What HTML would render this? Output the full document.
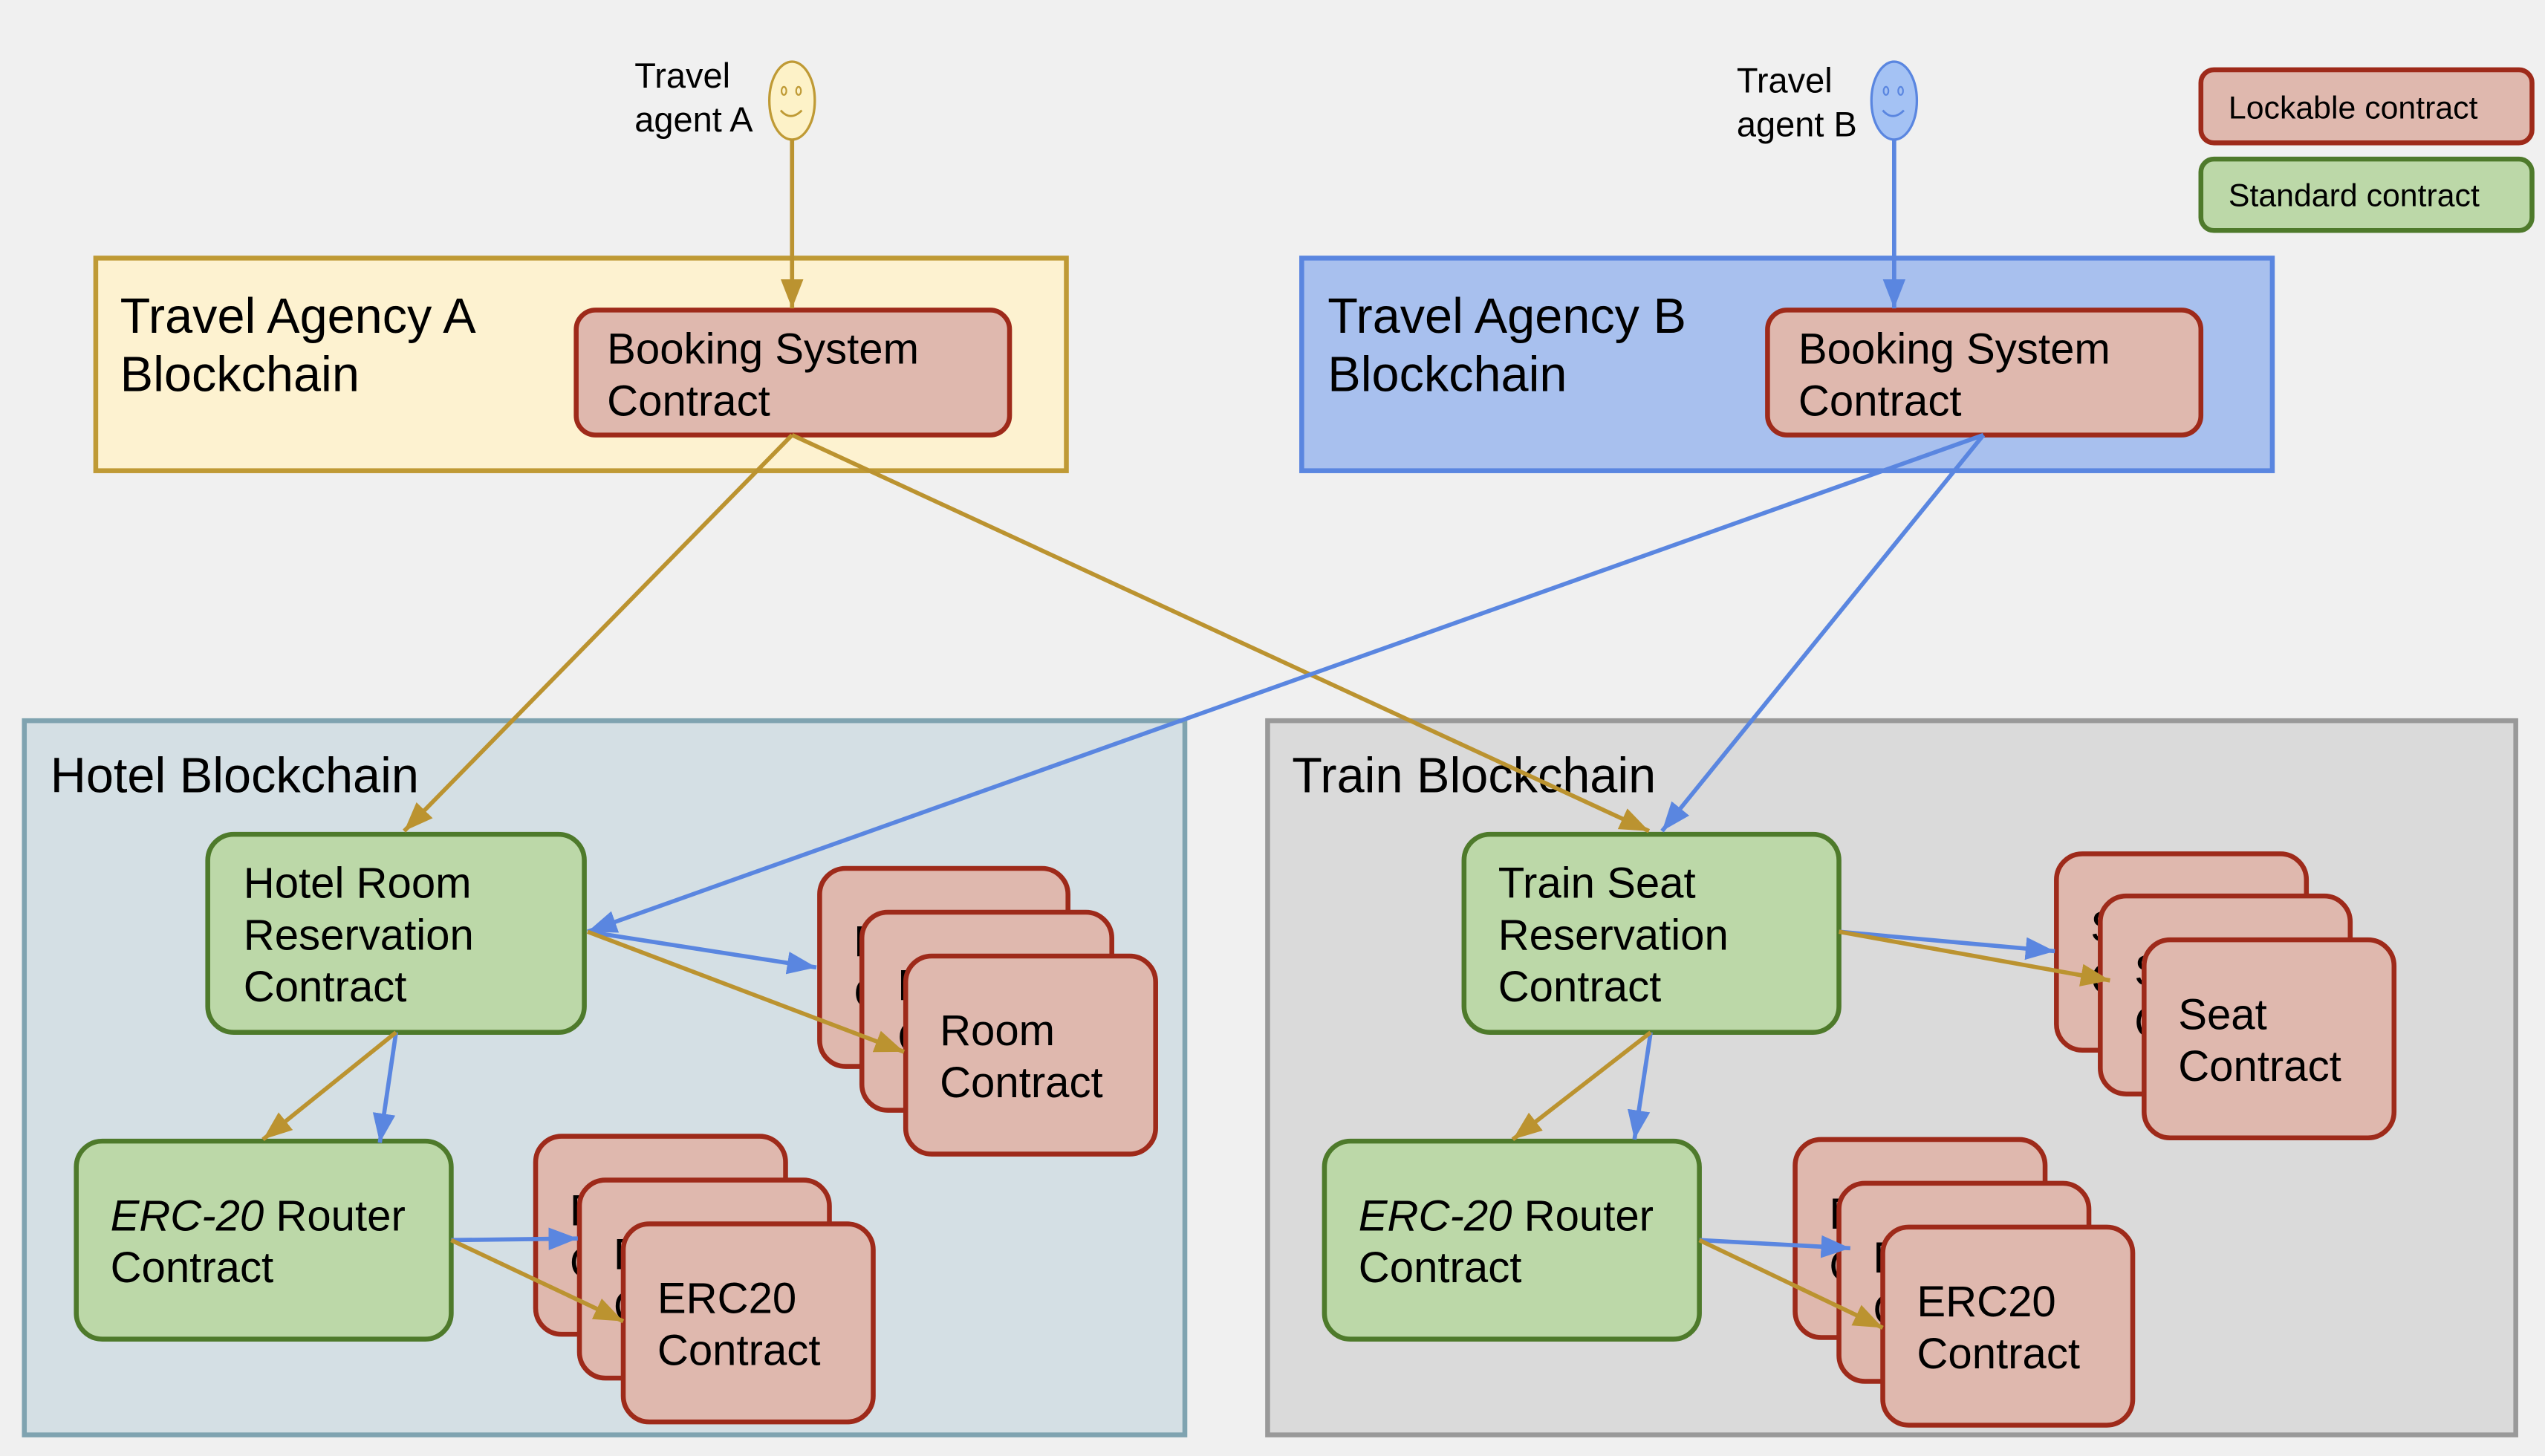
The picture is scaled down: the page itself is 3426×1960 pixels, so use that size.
<!DOCTYPE html>
<html><head><meta charset="utf-8">
<style>
html,body{margin:0;padding:0;background:#f0f0f0;}
svg{display:block;}
text{font-family:"Liberation Sans",Arial,sans-serif;fill:#000;}
.t{font-size:30.5px}
.b{font-size:26.6px}
</style></head>
<body>
<svg width="3426" height="1960" viewBox="0 0 1568 897" preserveAspectRatio="none" xmlns="http://www.w3.org/2000/svg">
<defs>
<marker id="ag" markerUnits="userSpaceOnUse" markerWidth="20" markerHeight="16" refX="18" refY="8" orient="auto"><path d="M0,1 L18,8 L0,15 Z" fill="#bb9330"/></marker>
<marker id="ab" markerUnits="userSpaceOnUse" markerWidth="20" markerHeight="16" refX="18" refY="8" orient="auto"><path d="M0,1 L18,8 L0,15 Z" fill="#5a86e0"/></marker>
</defs>
<rect width="1568" height="897" fill="#f0f0f0"/>

<rect x="59" y="159" width="598" height="131" fill="#fdf2d0" stroke="#bf9a35" stroke-width="3"/>
<text x="74" y="205" class="t">Travel Agency A</text>
<text x="74" y="241" class="t">Blockchain</text>
<rect x="802" y="159" width="598" height="131" fill="#a8c0ee" stroke="#5a86e0" stroke-width="3"/>
<text x="818" y="205" class="t">Travel Agency B</text>
<text x="818" y="241" class="t">Blockchain</text>

<rect x="15" y="444" width="715" height="440" fill="#d4dfe4" stroke="#7fa3b0" stroke-width="3"/>
<text x="31" y="488" class="t">Hotel Blockchain</text>
<rect x="781" y="444" width="769" height="440" fill="#dadada" stroke="#999" stroke-width="3"/>
<text x="796" y="488" class="t">Train Blockchain</text>

<rect x="1356" y="43" width="204" height="45" rx="8" fill="#dfb8ae" stroke="#9e2a1a" stroke-width="3"/>
<text x="1373" y="73" font-size="19.6">Lockable contract</text>
<rect x="1356" y="98" width="204" height="44" rx="8" fill="#bcd8a8" stroke="#4e7a2b" stroke-width="3"/>
<text x="1373" y="127" font-size="19.6">Standard contract</text>

<text x="391" y="54" font-size="21.5">Travel</text>
<text x="391" y="81" font-size="21.5">agent A</text>
<ellipse cx="488" cy="62" rx="14" ry="24" fill="#fdf2c8" stroke="#bf9a35" stroke-width="1.5"/>
<ellipse cx="483" cy="56" rx="1.5" ry="2.5" fill="none" stroke="#bf9a35"/>
<ellipse cx="492" cy="56" rx="1.5" ry="2.5" fill="none" stroke="#bf9a35"/>
<path d="M481,68 Q487,75 494,68" fill="none" stroke="#bf9a35" stroke-width="1.3"/>
<text x="1070" y="57" font-size="21.5">Travel</text>
<text x="1070" y="84" font-size="21.5">agent B</text>
<ellipse cx="1167" cy="62" rx="14" ry="24" fill="#a4c2f4" stroke="#5a86e0" stroke-width="1.5"/>
<ellipse cx="1162" cy="56" rx="1.5" ry="2.5" fill="none" stroke="#5a86e0"/>
<ellipse cx="1171" cy="56" rx="1.5" ry="2.5" fill="none" stroke="#5a86e0"/>
<path d="M1160,68 Q1166,75 1173,68" fill="none" stroke="#5a86e0" stroke-width="1.3"/>

<rect x="355" y="191" width="267" height="77" rx="12" fill="#dfb8ae" stroke="#9e2a1a" stroke-width="3"/>
<text x="374" y="224" class="b">Booking System</text>
<text x="374" y="256" class="b">Contract</text>
<rect x="1089" y="191" width="267" height="77" rx="12" fill="#dfb8ae" stroke="#9e2a1a" stroke-width="3"/>
<text x="1108" y="224" class="b">Booking System</text>
<text x="1108" y="256" class="b">Contract</text>

<rect x="128" y="514" width="232" height="122" rx="16" fill="#bcd8a8" stroke="#4e7a2b" stroke-width="3"/>
<text x="150" y="553" class="b">Hotel Room</text>
<text x="150" y="585" class="b">Reservation</text>
<text x="150" y="617" class="b">Contract</text>

<rect x="505" y="535" width="153" height="122" rx="16" fill="#dfb8ae" stroke="#9e2a1a" stroke-width="3"/>
<text x="526" y="589" class="b">Room</text><text x="526" y="621" class="b">Contract</text>
<rect x="531" y="562" width="154" height="122" rx="16" fill="#dfb8ae" stroke="#9e2a1a" stroke-width="3"/>
<text x="553" y="616" class="b">Room</text><text x="553" y="648" class="b">Contract</text>
<rect x="558" y="589" width="154" height="122" rx="16" fill="#dfb8ae" stroke="#9e2a1a" stroke-width="3"/>
<text x="579" y="644" class="b">Room</text><text x="579" y="676" class="b">Contract</text>

<rect x="47" y="703" width="231" height="122" rx="16" fill="#bcd8a8" stroke="#4e7a2b" stroke-width="3"/>
<text x="68" y="758" class="b"><tspan font-style="italic">ERC-20</tspan> Router</text>
<text x="68" y="790" class="b">Contract</text>

<rect x="330" y="700" width="154" height="122" rx="16" fill="#dfb8ae" stroke="#9e2a1a" stroke-width="3"/>
<text x="351" y="755" class="b">ERC20</text><text x="351" y="787" class="b">Contract</text>
<rect x="357" y="727" width="154" height="122" rx="16" fill="#dfb8ae" stroke="#9e2a1a" stroke-width="3"/>
<text x="378" y="782" class="b">ERC20</text><text x="378" y="814" class="b">Contract</text>
<rect x="384" y="754" width="154" height="122" rx="16" fill="#dfb8ae" stroke="#9e2a1a" stroke-width="3"/>
<text x="405" y="809" class="b">ERC20</text><text x="405" y="841" class="b">Contract</text>

<rect x="902" y="514" width="231" height="122" rx="16" fill="#bcd8a8" stroke="#4e7a2b" stroke-width="3"/>
<text x="923" y="553" class="b">Train Seat</text>
<text x="923" y="585" class="b">Reservation</text>
<text x="923" y="617" class="b">Contract</text>

<rect x="1267" y="526" width="154" height="121" rx="16" fill="#dfb8ae" stroke="#9e2a1a" stroke-width="3"/>
<text x="1288" y="580" class="b">Seat</text><text x="1288" y="612" class="b">Contract</text>
<rect x="1294" y="552" width="154" height="122" rx="16" fill="#dfb8ae" stroke="#9e2a1a" stroke-width="3"/>
<text x="1315" y="607" class="b">Seat</text><text x="1315" y="639" class="b">Contract</text>
<rect x="1321" y="579" width="154" height="122" rx="16" fill="#dfb8ae" stroke="#9e2a1a" stroke-width="3"/>
<text x="1342" y="634" class="b">Seat</text><text x="1342" y="666" class="b">Contract</text>

<rect x="816" y="703" width="231" height="122" rx="16" fill="#bcd8a8" stroke="#4e7a2b" stroke-width="3"/>
<text x="837" y="758" class="b"><tspan font-style="italic">ERC-20</tspan> Router</text>
<text x="837" y="790" class="b">Contract</text>

<rect x="1106" y="702" width="154" height="122" rx="16" fill="#dfb8ae" stroke="#9e2a1a" stroke-width="3"/>
<text x="1127" y="757" class="b">ERC20</text><text x="1127" y="789" class="b">Contract</text>
<rect x="1133" y="729" width="154" height="122" rx="16" fill="#dfb8ae" stroke="#9e2a1a" stroke-width="3"/>
<text x="1154" y="784" class="b">ERC20</text><text x="1154" y="816" class="b">Contract</text>
<rect x="1160" y="756" width="154" height="122" rx="16" fill="#dfb8ae" stroke="#9e2a1a" stroke-width="3"/>
<text x="1181" y="811" class="b">ERC20</text><text x="1181" y="843" class="b">Contract</text>

<g fill="none" stroke-width="2.6">
<line x1="488" y1="86" x2="488" y2="190" stroke="#bb9330" marker-end="url(#ag)"/>
<line x1="1167" y1="86" x2="1167" y2="190" stroke="#5a86e0" marker-end="url(#ab)"/>
<line x1="488" y1="268" x2="249" y2="512" stroke="#bb9330" marker-end="url(#ag)"/>
<line x1="488" y1="268" x2="1016" y2="512" stroke="#bb9330" marker-end="url(#ag)"/>
<line x1="1222" y1="268" x2="362" y2="574" stroke="#5a86e0" marker-end="url(#ab)"/>
<line x1="1222" y1="268" x2="1024" y2="512" stroke="#5a86e0" marker-end="url(#ab)"/>
<line x1="362" y1="574" x2="503" y2="596" stroke="#5a86e0" marker-end="url(#ab)"/>
<line x1="362" y1="574" x2="557" y2="648" stroke="#bb9330" marker-end="url(#ag)"/>
<line x1="244" y1="636" x2="234" y2="704" stroke="#5a86e0" marker-end="url(#ab)"/>
<line x1="244" y1="636" x2="162" y2="702" stroke="#bb9330" marker-end="url(#ag)"/>
<line x1="278" y1="764" x2="356" y2="763" stroke="#5a86e0" marker-end="url(#ab)"/>
<line x1="278" y1="764" x2="384" y2="814" stroke="#bb9330" marker-end="url(#ag)"/>
<line x1="1133" y1="574" x2="1266" y2="586" stroke="#5a86e0" marker-end="url(#ab)"/>
<line x1="1133" y1="574" x2="1300" y2="604" stroke="#bb9330" marker-end="url(#ag)"/>
<line x1="1017" y1="636" x2="1007" y2="702" stroke="#5a86e0" marker-end="url(#ab)"/>
<line x1="1017" y1="636" x2="932" y2="702" stroke="#bb9330" marker-end="url(#ag)"/>
<line x1="1047" y1="764" x2="1140" y2="769" stroke="#5a86e0" marker-end="url(#ab)"/>
<line x1="1047" y1="764" x2="1160" y2="818" stroke="#bb9330" marker-end="url(#ag)"/>
</g>
</svg>
</body></html>
